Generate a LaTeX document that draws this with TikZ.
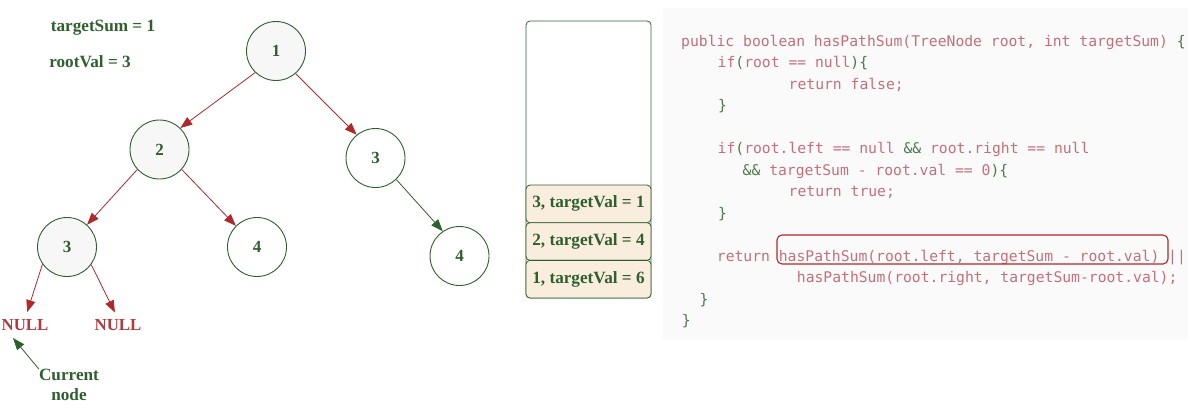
\documentclass[tikz,border=0pt]{standalone}
\usepackage{fontspec}
\setmainfont{Liberation Serif}
\newfontfamily\codefont{DejaVu Sans Mono}
\usetikzlibrary{arrows.meta}
\definecolor{grn}{HTML}{2F5F2F}
\definecolor{redarr}{HTML}{B0282C}
\definecolor{nullred}{HTML}{B53A40}
\definecolor{codepink}{HTML}{C4707A}
\definecolor{codegrn}{HTML}{4A7A4A}
\definecolor{cellfill}{HTML}{F9EEDD}
\definecolor{panel}{HTML}{FAFAFA}
\definecolor{visited}{HTML}{F7F7F7}
\begin{document}
\begin{tikzpicture}[x=1pt,y=-1pt,
  tn/.style={circle, draw=grn, line width=0.9pt, minimum size=59pt, inner sep=0pt,
    font=\bfseries\fontsize{17}{18}\selectfont, text=grn},
  vis/.style={fill=visited},
  lbl/.style={font=\bfseries\fontsize{17.2}{20}\selectfont, text=grn, inner sep=0pt},
  nulltxt/.style={font=\bfseries\fontsize{16.8}{20}\selectfont, text=nullred, inner sep=0pt},
  redarrow/.style={draw=redarr, line width=0.8pt, -{Triangle[length=12pt,width=9pt]}},
  grnarrow/.style={draw=grn, line width=0.8pt, -{Triangle[length=12pt,width=9pt]}},
  cell/.style={draw=grn, line width=0.8pt, fill=cellfill, rounded corners=4pt,
    minimum width=125pt, minimum height=37.7pt, inner sep=0pt, lbl},
  code/.style={anchor=base west, inner sep=0pt, font=\codefont\fontsize{14.7}{18}\selectfont, text=codepink},
  hl/.style={draw=redarr, line width=1.1pt, rounded corners=5pt}
]
\useasboundingbox (0,0) rectangle (1188,410);

% labels
\node[lbl, anchor=base] (tsum) at (103,31) {targetSum = 1};
\node[lbl, anchor=base] (rval) at (90,67) {rootVal = 3};

% tree
\node[tn, vis] (n1) at (276,51) {1};
\node[tn, vis] (n2) at (159.5,149.5) {2};
\node[tn] (n3r) at (375.5,158) {3};
\node[tn, vis] (n3l) at (67,247) {3};
\node[tn] (n4m) at (257,247) {4};
\node[tn] (n4r) at (459.5,256) {4};
\node[nulltxt, anchor=base] (nullA) at (25,330) {NULL};
\node[nulltxt, anchor=base] (nullB) at (118,330) {NULL};
\node[lbl, align=center, font=\bfseries\fontsize{17.2}{20}\selectfont] (cur) at (69,385) {Current\\node};
\coordinate (curtip) at (13,338);

\draw[redarrow] (n1.226) -- (n2.46);
\draw[redarrow] (n1.311) -- (n3r.129);
\draw[redarrow] (n2.222) -- (n3l.48);
\draw[redarrow] (n2.318) -- (n4m.135);
\draw[grnarrow] (n3r.314) -- (n4r.124);
\draw[redarrow, shorten >=7pt] (n3l.215) -- (nullA.north);
\draw[redarrow, shorten >=7pt] (n3l.324) -- (nullB.north);
\draw[grnarrow] (cur.north west) -- (curtip);

% stack
\node[draw=grn, line width=0.8pt, rounded corners=4pt, minimum width=125pt, minimum height=277pt, inner sep=0pt] (stack) at (588.5,159.5) {};
\node[cell] (c1) at (588.5,203.9) {3, targetVal = 1};
\node[cell] (c2) at (588.5,241.5) {2, targetVal = 4};
\node[cell] (c3) at (588.5,279.2) {1, targetVal = 6};

% code panel
\fill[panel] (663,8) rectangle (1188,340);
\node[code] (l1) at (681,46) {public boolean hasPathSum(TreeNode root, int targetSum) \textcolor{codegrn}{\{}};
\node[code] (l2) at (717.5,67.5) {if\textcolor{codegrn}{(}root == null\textcolor{codegrn}{)\{}};
\node[code] (l3) at (788.5,89) {return false;};
\node[code] (l4) at (718,110.5) {\textcolor{codegrn}{\}}};
\node[code] (l6) at (717.5,153.5) {if\textcolor{codegrn}{(}root.left == null \textcolor{codegrn}{\&\&} root.right == null};
\node[code] (l7) at (742.5,175) {\textcolor{codegrn}{\&\&} targetSum - root.val == 0\textcolor{codegrn}{)\{}};
\node[code] (l8) at (788.5,196.5) {return true;};
\node[code] (l9) at (718,218) {\textcolor{codegrn}{\}}};
\node[code] (l11) at (716.7,261) {return hasPathSum(root.left, targetSum - root.val) ||};
\node[code] (l12) at (796.7,282.5) {hasPathSum(root.right, targetSum-root.val);};
\node[code] (l13) at (699.3,304) {\textcolor{codegrn}{\}}};
\node[code] (l14) at (681.7,325.5) {\textcolor{codegrn}{\}}};
\draw[hl] (777,235) rectangle (1168,264);
\end{tikzpicture}
\end{document}
